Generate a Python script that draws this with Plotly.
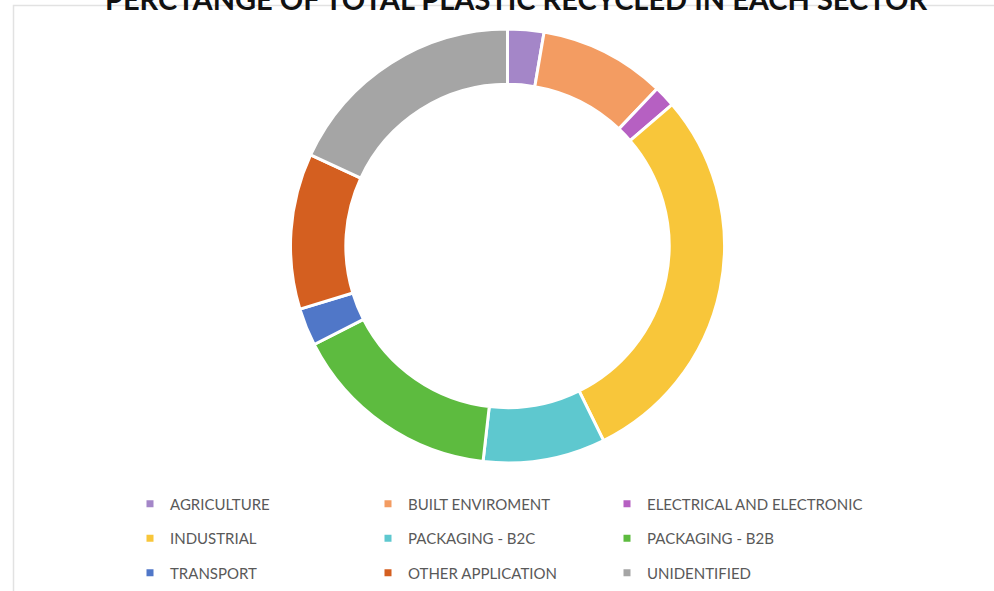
import plotly.graph_objects as go

# Share of recycled plastic by sector (percent)
sectors = [
    "AGRICULTURE", "BUILT ENVIROMENT", "ELECTRICAL AND ELECTRONIC",
    "INDUSTRIAL", "PACKAGING - B2C", "PACKAGING - B2B",
    "TRANSPORT", "OTHER APPLICATION", "UNIDENTIFIED",
]
shares = [2.7, 9.4, 1.6, 29.0, 9.1, 15.7, 2.8, 11.6, 18.1]
colors = [
    "#A486C8", "#F39C62", "#B660C2",
    "#F8C63A", "#5EC8CF", "#5DBB3F",
    "#5077C8", "#D45F20", "#A5A5A5",
]

W, H = 994, 591
cx, cy, r = 507.5, 246, 217  # donut centre / outer radius in px

fig = go.Figure()

fig.add_trace(go.Pie(
    labels=sectors,
    values=shares,
    marker=dict(colors=colors, line=dict(color="white", width=3)),
    hole=0.745,
    sort=False,
    direction="clockwise",
    rotation=0,
    textinfo="none",
    showlegend=False,
    domain=dict(x=[(cx - r) / W, (cx + r) / W],
                y=[(H - cy - r) / H, (H - cy + r) / H]),
))

# Legend entries laid out as three columns (one legend per column)
legend_ids = ["legend", "legend2", "legend3"]
for i, (name, col) in enumerate(zip(sectors, colors)):
    fig.add_trace(go.Scatter(
        x=[None], y=[None], mode="markers", name=name,
        marker=dict(symbol="square", size=7, color=col),
        legend=legend_ids[i % 3], legendgroup=name, hoverinfo="skip",
    ))

legend_font = dict(family="Lato, Liberation Sans, sans-serif", size=15, color="#595959")
col_text_x = [170, 408, 647]
legend_top = 487.5
legend_common = dict(
    orientation="v", xanchor="left", yanchor="top",
    y=1 - legend_top / H, traceorder="grouped", tracegroupgap=12,
    font=legend_font, bgcolor="rgba(0,0,0,0)", borderwidth=0,
)

fig.update_layout(
    width=W, height=H,
    margin=dict(l=0, r=0, t=0, b=0),
    paper_bgcolor="white", plot_bgcolor="white",
    xaxis=dict(visible=False), yaxis=dict(visible=False),
    title=dict(
        text="<b>PERCTANGE OF TOTAL PLASTIC RECYCLED IN EACH SECTOR</b>",
        font=dict(family="Lato, Liberation Sans, sans-serif", size=29, color="#111111"),
        x=516 / W, xanchor="center", yref="container", y=1.0, yanchor="middle",
    ),
    legend=dict(legend_common, x=(col_text_x[0] - 40) / W),
    legend2=dict(legend_common, x=(col_text_x[1] - 40) / W),
    legend3=dict(legend_common, x=(col_text_x[2] - 40) / W),
    shapes=[dict(
        type="rect", xref="paper", yref="paper",
        x0=13.5 / W, x1=1.02, y0=-0.02, y1=1 - 5.5 / H,
        line=dict(color="#E2E2E2", width=1.5), layer="below",
    )],
)

fig.write_html("out.html")
